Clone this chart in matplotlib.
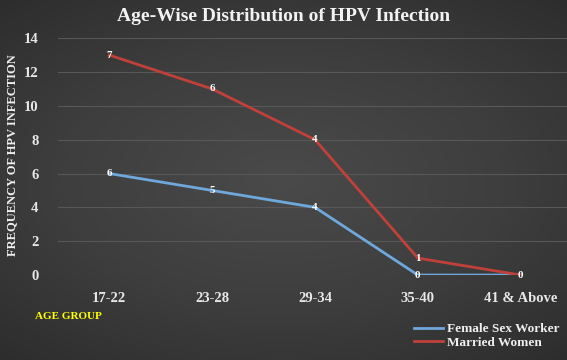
import matplotlib.pyplot as plt
import numpy as np
from matplotlib.colors import LinearSegmentedColormap

# data
age_groups = ["17-22", "23-28", "29-34", "35-40", "41 & Above"]
fsw_values = [6, 5, 4, 0, 0]
fsw_labels = ["6", "5", "4", "0", ""]
married_values = [13, 11, 8, 1, 0]
married_labels = ["7", "6", "4", "1", "0"]

plt.rcParams['font.family'] = ['Liberation Serif', 'DejaVu Serif']

fig = plt.figure(figsize=(5.67, 3.6), dpi=100)
fig.patch.set_facecolor('#2a2a2a')

# dark radial background gradient, lighter in the middle
bg = fig.add_axes([0, 0, 1, 1], zorder=-10)
yy, xx = np.mgrid[-1:1:200j, -1:1:300j]
r = np.sqrt((xx * 0.8) ** 2 + (yy * 0.9) ** 2)
cmap = LinearSegmentedColormap.from_list('bg', ['#4a4a4a', '#3e3e3e', '#2c2c2c'])
bg.imshow(r, cmap=cmap, vmin=0, vmax=1.25, aspect='auto', extent=[0, 1, 0, 1])
bg.set_axis_off()

ax = fig.add_axes([0.102, 0.236, 0.898, 0.658])
ax.set_facecolor('none')

x = np.arange(len(age_groups))
ax.plot(x, fsw_values, color='#6fa8dc', lw=2, label='Female Sex Worker', zorder=3)
ax.plot(x, married_values, color='#c0403a', lw=2, label='Married Women', zorder=3)

for xi, v, s in zip(x, fsw_values, fsw_labels):
    ax.text(xi, v, s, color='white', fontsize=8, fontweight='bold',
            ha='center', va='center', zorder=4)
for xi, v, s in zip(x, married_values, married_labels):
    ax.text(xi, v, s, color='white', fontsize=8, fontweight='bold',
            ha='center', va='center', zorder=4)

ax.set_xlim(-0.5, 4.45)
ax.set_ylim(0, 14)
ax.set_yticks(range(0, 15, 2))
ax.set_xticks(x)
ax.set_xticklabels(age_groups)
ax.grid(axis='y', color='#585858', lw=0.8)
ax.set_axisbelow(True)
for sp in ax.spines.values():
    sp.set_visible(False)
ax.tick_params(length=0, colors='#e8e8e8', labelsize=10.5)
for lbl in ax.get_xticklabels() + ax.get_yticklabels():
    lbl.set_fontweight('bold')
ax.tick_params(axis='x', pad=12)
ax.tick_params(axis='y', pad=14)

fig.text(0.5, 0.955, "Age-Wise Distribution of HPV Infection", color='#f2f2f2',
         fontsize=14, fontweight='bold', ha='center', va='center')
fig.text(0.022, 0.57, "FREQUENCY OF HPV INFECTION", color='#f0f0f0', fontsize=9,
         fontweight='bold', rotation=90, ha='center', va='center')
fig.text(0.062, 0.12, "AGE GROUP", color='#ffff00', fontsize=8,
         fontweight='bold', ha='left', va='center')

leg = ax.legend(loc='lower right', bbox_to_anchor=(1.0, -0.345), frameon=False,
                fontsize=9.5, handlelength=2.2, handletextpad=0.3, labelspacing=0.1,
                borderaxespad=0.2)
for t in leg.get_texts():
    t.set_color('#f0f0f0')
    t.set_fontweight('bold')

fig.savefig('out.png', dpi=100, facecolor=fig.get_facecolor())
